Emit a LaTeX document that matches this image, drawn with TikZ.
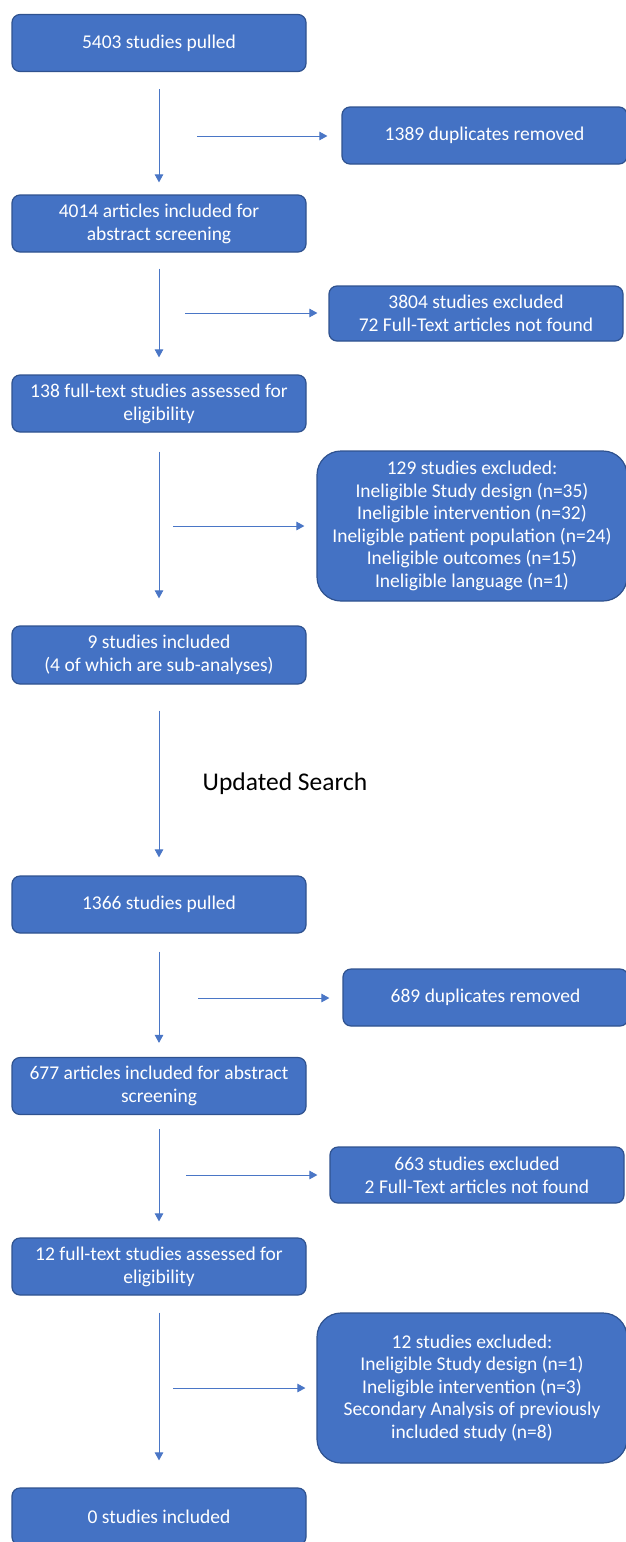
\documentclass[tikz,border=0pt]{standalone}
\usepackage{fontspec}
\setmainfont{Carlito}
\definecolor{boxblue}{HTML}{4472C4}
\definecolor{boxedge}{HTML}{2F528F}
\definecolor{flowblue}{HTML}{4A76C6}
\usetikzlibrary{arrows.meta}

\begin{document}
\begin{tikzpicture}[x=1pt,y=-1pt,
  stagebox/.style={draw=boxedge,line width=1.2pt,fill=boxblue,text=white,rounded corners=8pt,
    minimum width=294pt,minimum height=57pt,inner sep=0pt,align=center,
    font=\fontsize{19.5}{23}\selectfont},
  bigbox/.style={stagebox,rounded corners=24pt},
  flow/.style={draw=flowblue,line width=0.9pt,-{Triangle[length=8pt,width=8.5pt]}}]
  \useasboundingbox (0,0) rectangle (625,1542);
  % first search
  \node[stagebox] (pulled1) at (159,43) {5403 studies pulled};
  \node[stagebox,minimum width=285pt] (dup1) at (484.5,135.5) {1389 duplicates removed};
  \node[stagebox] (abs1) at (159,223.5) {4014 articles included for\\abstract screening};
  \node[stagebox,minimum height=55pt] (excl1) at (476,313.5) {3804 studies excluded\\72 Full-Text articles not found};
  \node[stagebox] (full1) at (159,403.5) {138 full-text studies assessed for\\eligibility};
  \node[bigbox,minimum width=310pt,minimum height=150pt,font=\fontsize{19.5}{22.5}\selectfont] (excl2) at (472,526)
    {129 studies excluded:\\Ineligible Study design (n=35)\\Ineligible intervention (n=32)\\Ineligible patient population (n=24)\\Ineligible outcomes (n=15)\\Ineligible language (n=1)};
  \node[stagebox,minimum height=58pt] (incl1) at (159,655) {9 studies included\\(4 of which are sub-analyses)};
  \node[font=\fontsize{25.5}{30}\selectfont] (update) at (285,784) {Updated Search};
  % updated search
  \node[stagebox] (pulled2) at (159,904.5) {1366 studies pulled};
  \node[stagebox,minimum width=285pt] (dup2) at (485.5,997.5) {689 duplicates removed};
  \node[stagebox] (abs2) at (159,1086) {677 articles included for abstract\\screening};
  \node[stagebox,minimum height=56pt] (excl3) at (477,1175) {663 studies excluded\\2 Full-Text articles not found};
  \node[stagebox] (full2) at (159,1266.5) {12 full-text studies assessed for\\eligibility};
  \node[bigbox,minimum width=310pt,minimum height=150pt,font=\fontsize{19.5}{22.5}\selectfont] (excl4) at (472,1388)
    {12 studies excluded:\\Ineligible Study design (n=1)\\Ineligible intervention (n=3)\\Secondary Analysis of previously\\included study (n=8)};
  \node[stagebox] (incl2) at (159,1516.5) {0 studies included};
  % side arrow starts
  \coordinate (side1) at (197,136);
  \coordinate (side2) at (185,313);
  \coordinate (side3) at (173,526);
  \coordinate (side4) at (198,998);
  \coordinate (side5) at (186,1175);
  \coordinate (side6) at (173,1388);
  % main arrows
  \draw[flow,shorten <=17pt,shorten >=12pt] (pulled1.south) -- (abs1.north);
  \draw[flow,shorten <=16pt,shorten >=17pt] (abs1.south) -- (full1.north);
  \draw[flow,shorten <=19pt,shorten >=27pt] (full1.south) -- (incl1.north);
  \draw[flow,shorten <=26pt,shorten >=18pt] (incl1.south) -- (pulled2.north);
  \draw[flow,shorten <=18pt,shorten >=14pt] (pulled2.south) -- (abs2.north);
  \draw[flow,shorten <=14pt,shorten >=16pt] (abs2.south) -- (full2.north);
  \draw[flow,shorten <=17pt,shorten >=27pt] (full2.south) -- (incl2.north);
  % side arrows
  \draw[flow,shorten >=14pt] (side1) -- (side1 -| dup1.west);
  \draw[flow,shorten >=11pt] (side2) -- (side2 -| excl1.west);
  \draw[flow,shorten >=12pt] (side3) -- (side3 -| excl2.west);
  \draw[flow,shorten >=13pt] (side4) -- (side4 -| dup2.west);
  \draw[flow,shorten >=12pt] (side5) -- (side5 -| excl3.west);
  \draw[flow,shorten >=11pt] (side6) -- (side6 -| excl4.west);
\end{tikzpicture}
\end{document}
